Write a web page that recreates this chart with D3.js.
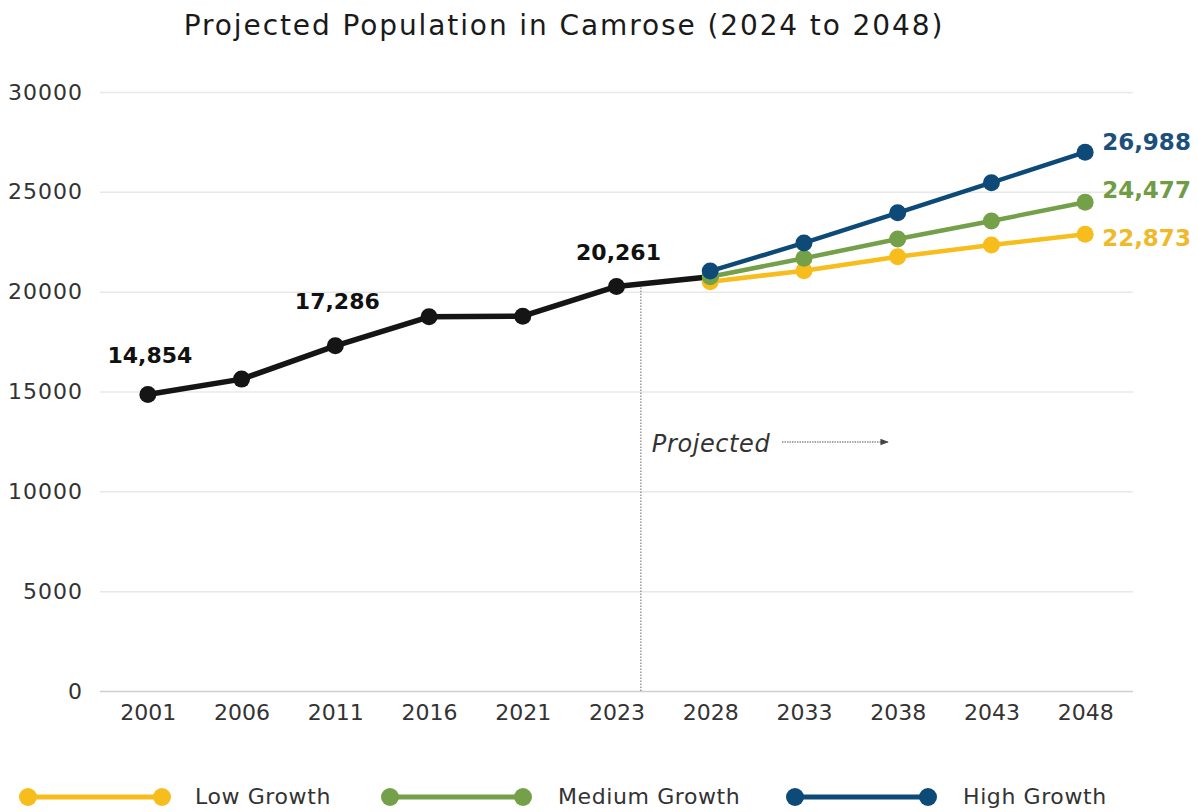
<!DOCTYPE html>
<html>
<head>
<meta charset="utf-8">
<script src="https://cdn.jsdelivr.net/npm/d3@7"></script>
<style>
  html, body { margin: 0; padding: 0; background: #ffffff; }
  svg { display: block; }
</style>
</head>
<body>
<svg id="chart" width="1198" height="812"></svg>
<script>
// ---- Data ----
const years = ["2001","2006","2011","2016","2021","2023","2028","2033","2038","2043","2048"];
const historicalYears = ["2001","2006","2011","2016","2021","2023","2028"];
const historicalValues = [14854, 15620, 17286, 18742, 18772, 20261, 20750];
const projYears = ["2028","2033","2038","2043","2048"];
const lowValues = [20500, 21050, 21750, 22340, 22873];
const mediumValues = [20750, 21670, 22640, 23540, 24477];
const highValues = [21030, 22440, 23950, 25460, 26988];
const yTicks = [0, 5000, 10000, 15000, 20000, 25000, 30000];
const labelledHistorical = ["2001","2011","2023"];
const seriesNames = ["Low Growth", "Medium Growth", "High Growth"];
const titleText = "Projected Population in Camrose (2024 to 2048)";
const projectedText = "Projected";

// ---- Styles ----
const colors = { hist: "#151515", low: "#f6bd1c", medium: "#75a04a", high: "#0d4a78" };
const labelColors = { low: "#f0b92a", medium: "#6f9c45", high: "#1c4f7c" };
const font = "'DejaVu Sans', sans-serif";

const svg = d3.select("#chart");

const x = d3.scalePoint().domain(years).range([101, 1132]).padding(0.5);
const y = d3.scaleLinear().domain([0, 30000]).range([691, 92]);

// Title
svg.append("text")
  .attr("x", 564).attr("y", 35)
  .attr("text-anchor", "middle")
  .attr("font-family", font).attr("font-size", 28)
  .attr("letter-spacing", 1.9)
  .attr("fill", "#1a1a1a")
  .text(titleText);

// Gridlines
const yAxis = d3.axisLeft(y).tickValues(yTicks).tickSize(-(1133 - 100)).tickPadding(17).tickFormat(d3.format("d"));
const gy = svg.append("g").attr("transform", "translate(100,0)").call(yAxis);
gy.select(".domain").remove();
gy.selectAll(".tick line").attr("stroke", d => d === 0 ? "#cfcfcf" : "#e8e8e8").attr("stroke-width", 1.5);
gy.selectAll(".tick text").attr("font-family", font).attr("font-size", 22)
  .attr("letter-spacing", 1).attr("fill", "#333");

// X axis
const xAxis = d3.axisBottom(x).tickSize(0).tickPadding(13);
const gx = svg.append("g").attr("transform", "translate(0,691)").call(xAxis);
gx.select(".domain").remove();
gx.selectAll(".tick text").attr("font-family", font).attr("font-size", 22).attr("fill", "#333");

// Projected divider
const divX = x("2023") + 0.26 * x.step();
svg.append("line")
  .attr("x1", divX).attr("x2", divX)
  .attr("y1", y(20261) + 1).attr("y2", y(0))
  .attr("stroke", "#8a8a8a").attr("stroke-width", 1.3).attr("stroke-dasharray", "1.5,1.5");

svg.append("text")
  .attr("x", divX + 11).attr("y", 452)
  .attr("font-family", font).attr("font-size", 24).attr("font-style", "italic")
  .attr("letter-spacing", 0.6)
  .attr("fill", "#333")
  .text(projectedText);

const defs = svg.append("defs");
defs.append("marker").attr("id", "arrow").attr("viewBox", "0 0 10 10")
  .attr("refX", 9).attr("refY", 5).attr("markerWidth", 7).attr("markerHeight", 7)
  .attr("orient", "auto")
  .append("path").attr("d", "M0,1 L10,5 L0,9 Z").attr("fill", "#444");
svg.append("line")
  .attr("x1", 782).attr("x2", 888).attr("y1", 442).attr("y2", 442)
  .attr("stroke", "#555").attr("stroke-width", 1.2).attr("stroke-dasharray", "1.5,1")
  .attr("marker-end", "url(#arrow)");

// Lines
const line = d3.line().x(d => x(d.year)).y(d => y(d.value));
function drawSeries(yrs, vals, color, width, r) {
  const data = yrs.map((yr, i) => ({ year: yr, value: vals[i] }));
  svg.append("path").datum(data)
    .attr("d", line).attr("fill", "none")
    .attr("stroke", color).attr("stroke-width", width)
    .attr("stroke-linejoin", "round");
  svg.append("g").selectAll("circle").data(data).join("circle")
    .attr("cx", d => x(d.year)).attr("cy", d => y(d.value))
    .attr("r", r).attr("fill", color);
  return data;
}
drawSeries(historicalYears, historicalValues, colors.hist, 5.5, 8.5);
drawSeries(projYears, lowValues, colors.low, 4.5, 8.5);
drawSeries(projYears, mediumValues, colors.medium, 4.5, 8.5);
drawSeries(projYears, highValues, colors.high, 4.5, 8.5);

// Historical labels
const histLabelDy = [31, 37, 26];
labelledHistorical.forEach((yr, i) => {
  const v = historicalValues[historicalYears.indexOf(yr)];
  svg.append("text")
    .attr("x", x(yr) + 2).attr("y", y(v) - histLabelDy[i])
    .attr("text-anchor", "middle")
    .attr("font-family", font).attr("font-size", 22).attr("font-weight", "bold")
    .attr("fill", "#111")
    .text(d3.format(",")(v));
});

// End labels
const endLabels = [
  { v: highValues[highValues.length - 1], c: labelColors.high, dy: -2 },
  { v: mediumValues[mediumValues.length - 1], c: labelColors.medium, dy: -4 },
  { v: lowValues[lowValues.length - 1], c: labelColors.low, dy: 12 }
];
endLabels.forEach(l => {
  svg.append("text")
    .attr("x", x("2048") + 17).attr("y", y(l.v) + l.dy)
    .attr("font-family", font).attr("font-size", 23).attr("font-weight", "bold")
    .attr("fill", l.c)
    .text(d3.format(",")(l.v));
});

// Legend
const legendItems = [
  { name: seriesNames[0], color: colors.low, x0: 28, x1: 162, tx: 195 },
  { name: seriesNames[1], color: colors.medium, x0: 390, x1: 523, tx: 558 },
  { name: seriesNames[2], color: colors.high, x0: 795, x1: 928, tx: 963 }
];
const lg = svg.append("g");
legendItems.forEach(it => {
  const ly = 797;
  lg.append("line").attr("x1", it.x0).attr("x2", it.x1).attr("y1", ly).attr("y2", ly)
    .attr("stroke", it.color).attr("stroke-width", 5);
  lg.append("circle").attr("cx", it.x0).attr("cy", ly).attr("r", 9).attr("fill", it.color);
  lg.append("circle").attr("cx", it.x1).attr("cy", ly).attr("r", 9).attr("fill", it.color);
  lg.append("text").attr("x", it.tx).attr("y", ly + 7)
    .attr("font-family", font).attr("font-size", 22).attr("letter-spacing", 0.6)
    .attr("fill", "#333")
    .text(it.name);
});
</script>
</body>
</html>
